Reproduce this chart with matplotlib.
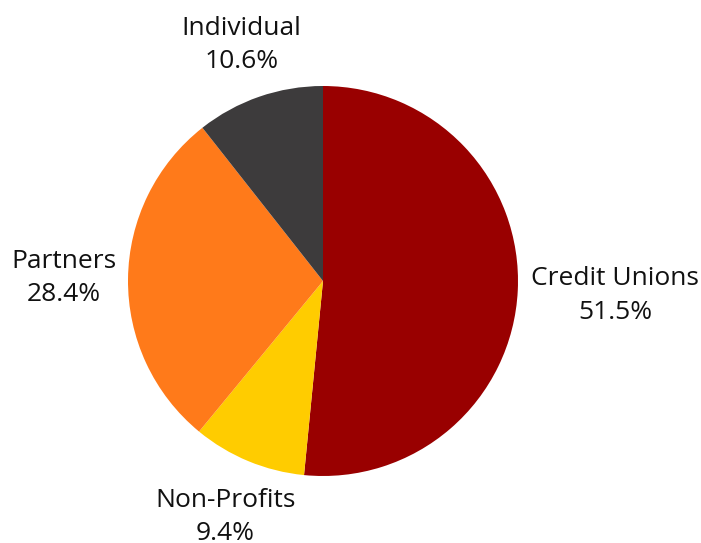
import numpy as np
import matplotlib.pyplot as plt

labels = ['Credit Unions', 'Non-Profits', 'Partners', 'Individual']
shares = [51.5, 9.4, 28.4, 10.6]
colors = ['#990000', '#FFCC00', '#FF7A1A', '#3D3B3C']
label_dist = [1.50, 1.31, 1.33, 1.28]

plt.rcParams['font.family'] = ['Open Sans', 'DejaVu Sans']

fig = plt.figure(figsize=(7.01, 5.43), dpi=100)
ax = fig.add_axes([0, 0, 1, 1])
wedges, _ = ax.pie(shares, colors=colors, startangle=90, counterclock=False,
                   radius=1)

for w, lab, val, d in zip(wedges, labels, shares, label_dist):
    ang = np.deg2rad((w.theta1 + w.theta2) / 2)
    x, y = d * np.cos(ang), d * np.sin(ang)
    ax.text(x, y, f'{lab}\n{val:.1f}%', ha='center', va='center',
            fontsize=19, linespacing=1.45, color='#111111')

ax.set_xlim(-323 / 195, (701 - 323) / 195)
ax.set_ylim(-262 / 195, 281 / 195)
ax.set_aspect('auto')
ax.axis('off')

fig.savefig('out.png', dpi=100)
